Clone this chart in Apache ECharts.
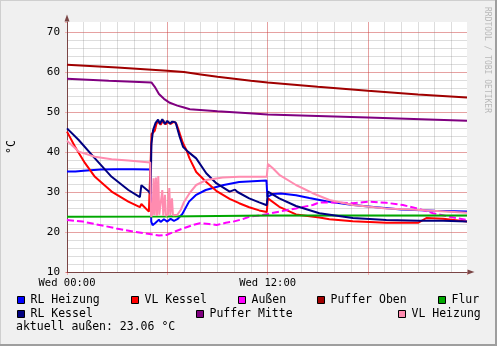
<!DOCTYPE html>
<html>
<head>
<meta charset="utf-8">
<script src="https://cdn.jsdelivr.net/npm/echarts@6/dist/echarts.min.js"></script>
<style>
html,body{margin:0;padding:0;background:#f0f0f0;}
#c{width:497px;height:346px;}
</style>
</head>
<body>
<div id="c"></div>
<script>
// ---- data (x = hours since Wed 00:00, y = °C) ----
const xMax = 23.93;
const yMin = 10, yMax = 72.5;
const majorTickLabels = {0: 'Wed 00:00', 12: 'Wed 12:00'};
const currentOutside = '23.06';

const seriesNames = ['RL Heizung', 'VL Kessel', 'Außen', 'Puffer Oben', 'Flur', 'RL Kessel', 'Puffer Mitte', 'VL Heizung'];
const seriesColors = ['#0000ff', '#ff0000', '#ff00ff', '#a00000', '#00a800', '#000080', '#800080', '#ff8cb0'];

const rlHeizung = [[0,35.1],[0.5,35.1],[1.0,35.3],[2.0,35.6],[3,35.7],[4,35.7],[4.98,35.6],[5.04,22.6],[5.12,21.7],[5.3,22.3],[5.5,23.1],[5.6,22.5],[5.8,23.2],[6.0,22.6],[6.2,23.3],[6.4,22.8],[6.6,23.2],[6.9,24.5],[7.3,27.6],[7.7,29.2],[8.3,30.5],[9.3,31.7],[10.3,32.5],[11.93,32.9],[11.99,28.8],[12.3,29.5],[12.8,29.6],[13.7,29.2],[14.5,28.5],[15.5,27.7],[17,26.8],[18.5,26.2],[20,25.6],[22,25.3],[23.93,25.1]];
const vlKessel = [[0,45.1],[0.48,41.3],[1.08,37.2],[1.67,33.8],[2.67,30.1],[3.67,27.6],[4.36,26.2],[4.45,27.0],[4.9,25.1],[5.0,25.0],[5.06,44.5],[5.25,45.3],[5.35,47.0],[5.45,47.8],[5.6,46.8],[5.75,47.9],[5.9,46.9],[6.05,47.6],[6.2,47.0],[6.4,47.6],[6.55,47.0],[6.74,44.7],[6.94,42.2],[7.14,40.5],[7.33,38.4],[7.73,35.0],[8.33,32.5],[8.93,30.3],[9.73,28.3],[10.3,27.2],[10.9,26.2],[11.5,25.4],[11.95,25.0],[12.02,28.4],[12.7,26.3],[13.7,24.4],[15.1,23.6],[15.7,23.2],[17.1,22.7],[19.1,22.3],[21.0,22.3],[21.5,23.5],[22.5,23.3],[23.93,22.6]];
const aussen = [[0,23.0],[0.95,22.6],[2.95,20.9],[3.95,20.1],[4.95,19.5],[5.5,19.1],[5.95,19.25],[6.5,20.2],[6.95,20.9],[7.5,21.7],[7.95,22.2],[8.5,22.0],[8.95,21.75],[9.5,22.3],[9.95,22.6],[10.5,23.2],[10.9,23.8],[11.7,24.25],[12.7,25.1],[13.7,25.9],[14.7,26.75],[15.1,27.4],[16,27.4],[17.1,27.2],[18.1,27.6],[19.1,27.3],[20.1,26.75],[21.1,25.7],[21.9,24.7],[22.9,23.8],[23.93,23.0]];
const pufferOben = [[0,61.8],[3,61.1],[6,60.3],[7,60.0],[8,59.4],[9,58.8],[10,58.3],[11,57.8],[12,57.35],[15,56.3],[18,55.3],[21,54.4],[23.93,53.6]];
const flur = [[0,23.8],[6,23.9],[12,24.1],[18,24.1],[23.93,24.1]];
const rlKessel = [[0,45.9],[0.7,43.0],[1.67,38.4],[2.67,33.8],[3.67,30.5],[4.36,28.7],[4.45,31.7],[4.9,30.1],[5.0,29.5],[5.05,42.0],[5.15,45.5],[5.3,47.3],[5.45,48.1],[5.55,47.0],[5.7,48.2],[5.85,47.0],[6.0,47.8],[6.15,47.1],[6.3,47.6],[6.5,47.4],[6.74,43.8],[6.94,41.3],[7.23,40.1],[7.73,38.4],[8.33,34.7],[8.93,32.2],[9.73,30.1],[10.05,30.6],[10.2,30.0],[10.9,28.4],[11.5,27.4],[11.95,26.7],[12.02,30.1],[12.7,28.4],[13.7,26.5],[15.1,24.7],[17.1,23.5],[19.1,23.0],[21.1,22.8],[22.5,22.8],[23.93,22.6]];
const pufferMitte = [[0,58.3],[2.5,57.8],[5.05,57.4],[5.25,56.3],[5.5,54.5],[5.8,53.3],[6.15,52.3],[6.6,51.6],[6.95,51.2],[7.35,50.7],[9,50.2],[10.9,49.7],[12,49.4],[18,48.6],[23.93,47.8]];
const vlHeizung = [[0,42.8],[0.7,40.1],[1.67,38.8],[2.67,38.2],[3.67,37.9],[4.98,37.4],[5.03,23.8],[5.12,24.5],[5.18,33.4],[5.24,24.2],[5.32,33.6],[5.38,24.0],[5.46,34.0],[5.52,24.3],[5.62,24.0],[5.7,30.5],[5.76,24.1],[5.86,29.3],[5.92,24.0],[6.04,24.4],[6.12,31.0],[6.18,24.2],[6.28,28.4],[6.34,24.2],[6.6,24.3],[6.8,25.5],[7.0,27.5],[7.33,29.7],[7.73,31.75],[8.33,33.0],[9.32,33.6],[10.3,33.8],[11.95,33.8],[12.02,37.0],[12.3,36.0],[12.7,34.3],[13.7,31.75],[14.7,29.7],[15.7,28.0],[17.1,26.75],[19.1,25.9],[21.1,25.5],[23.93,24.8]];

const seriesData = [rlHeizung, vlKessel, aussen, pufferOben, flur, rlKessel, pufferMitte, vlHeizung];

// ---- layout / style ----
const MONO = '"DejaVu Sans Mono", monospace';
const GRAY = 'rgba(128,128,128,0.27)';
const RED = 'rgba(255,0,0,0.27)';
const AXIS = '#7a4545';

const legendPos = [
  [17, 300], [131, 300], [238, 300], [317, 300], [438, 300],
  [17, 314], [196, 314], [398, 314]
];
const legendOrder = [0, 1, 2, 3, 4, 5, 6, 7];

function colorArr(n, c) { const a = []; for (let i = 0; i < n; i++) a.push(c); a.push('transparent'); return a; }

const chart = echarts.init(document.getElementById('c'), null, {renderer: 'canvas'});
const option = {
  animation: false,
  backgroundColor: '#f0f0f0',
  grid: {left: 67, top: 22, width: 400, height: 250, show: true, backgroundColor: '#ffffff', borderWidth: 0,
         containLabel: false, outerBoundsMode: 'none'},
  xAxis: [
    {type: 'value', position: 'bottom', min: 0, max: xMax, interval: 1, axisLine: {show: false}, axisTick: {show: false}, axisLabel: {show: false},
     splitLine: {show: true, showMaxLine: false, lineStyle: {color: colorArr(24, GRAY), width: 1}}},
    {type: 'value', position: 'bottom', min: 0, max: xMax, interval: 6,
     axisLine: {show: true, onZero: false, symbol: ['none', 'triangle'], symbolSize: [5, 7], symbolOffset: [0, 4], lineStyle: {color: AXIS, width: 1}},
     axisTick: {show: true, length: 3, lineStyle: {color: RED}},
     axisLabel: {show: true, margin: 6, fontFamily: MONO, fontSize: 10.5, color: '#000',
       formatter: v => majorTickLabels[v] !== undefined ? majorTickLabels[v] : ''},
     splitLine: {show: true, showMaxLine: false, lineStyle: {color: colorArr(4, RED), width: 1}}}
  ],
  yAxis: [
    {type: 'value', position: 'left', min: yMin, max: yMax, interval: 2, axisLine: {show: false}, axisTick: {show: false}, axisLabel: {show: false},
     splitLine: {show: true, showMaxLine: false, lineStyle: {color: colorArr(31, GRAY), width: 1}}},
    {type: 'value', position: 'left', min: yMin, max: yMax, interval: 10, name: '°C', nameLocation: 'middle', nameRotate: 90, nameGap: 49,
     nameTextStyle: {fontFamily: MONO, fontSize: 11.5, color: '#000'},
     axisLine: {show: true, onZero: false, symbol: ['none', 'triangle'], symbolSize: [5, 7], symbolOffset: [0, 4], lineStyle: {color: AXIS, width: 1}},
     axisTick: {show: true, length: 2, lineStyle: {color: RED}},
     axisLabel: {show: true, margin: 7, fontFamily: MONO, fontSize: 11, color: '#000',
       formatter: v => (v % 10 === 0 ? String(v) : '')},
     splitLine: {show: true, showMaxLine: false, lineStyle: {color: colorArr(7, RED), width: 1}}}
  ],
  legend: legendOrder.map(i => ({
    data: [seriesNames[i]],
    left: legendPos[i][0], top: legendPos[i][1] - 7, padding: 0,
    icon: 'rect', itemWidth: 7, itemHeight: 7, itemGap: 0,
    itemStyle: {borderColor: '#000', borderWidth: 1},
    textStyle: {fontFamily: MONO, fontSize: 11.5, color: '#000', lineHeight: 14, padding: [0, 0, 0, 1]},
    selectedMode: false
  })),
  title: {text: 'aktuell außen: ' + currentOutside + ' °C', left: 16, top: 320, padding: 0,
    textStyle: {fontFamily: MONO, fontSize: 11.5, fontWeight: 'normal', color: '#000', lineHeight: 14}},
  graphic: [
    {type: 'rect', shape: {x: 0, y: 0, width: 497, height: 1}, style: {fill: '#cfcfcf'}, silent: true},
    {type: 'rect', shape: {x: 0, y: 0, width: 1, height: 346}, style: {fill: '#cfcfcf'}, silent: true},
    {type: 'rect', shape: {x: 495, y: 0, width: 2, height: 346}, style: {fill: '#9e9e9e'}, silent: true},
    {type: 'rect', shape: {x: 0, y: 344, width: 497, height: 2}, style: {fill: '#9e9e9e'}, silent: true},
    {type: 'text', x: 487, y: 7, rotation: -Math.PI / 2, silent: true,
     style: {text: 'RRDTOOL / TOBI OETIKER', fill: '#b8b8b8', font: '8px ' + MONO, textAlign: 'left', textVerticalAlign: 'middle'}}
  ],
  series: seriesData.map((d, i) => ({
    name: seriesNames[i], type: 'line', data: d, xAxisIndex: 1, yAxisIndex: 1,
    showSymbol: false, symbol: 'none', color: seriesColors[i],
    lineStyle: {width: 2, color: seriesColors[i], type: i === 2 ? [7, 3] : 'solid'},
    z: 3 + i
  }))
};
chart.setOption(option);
</script>
</body>
</html>
